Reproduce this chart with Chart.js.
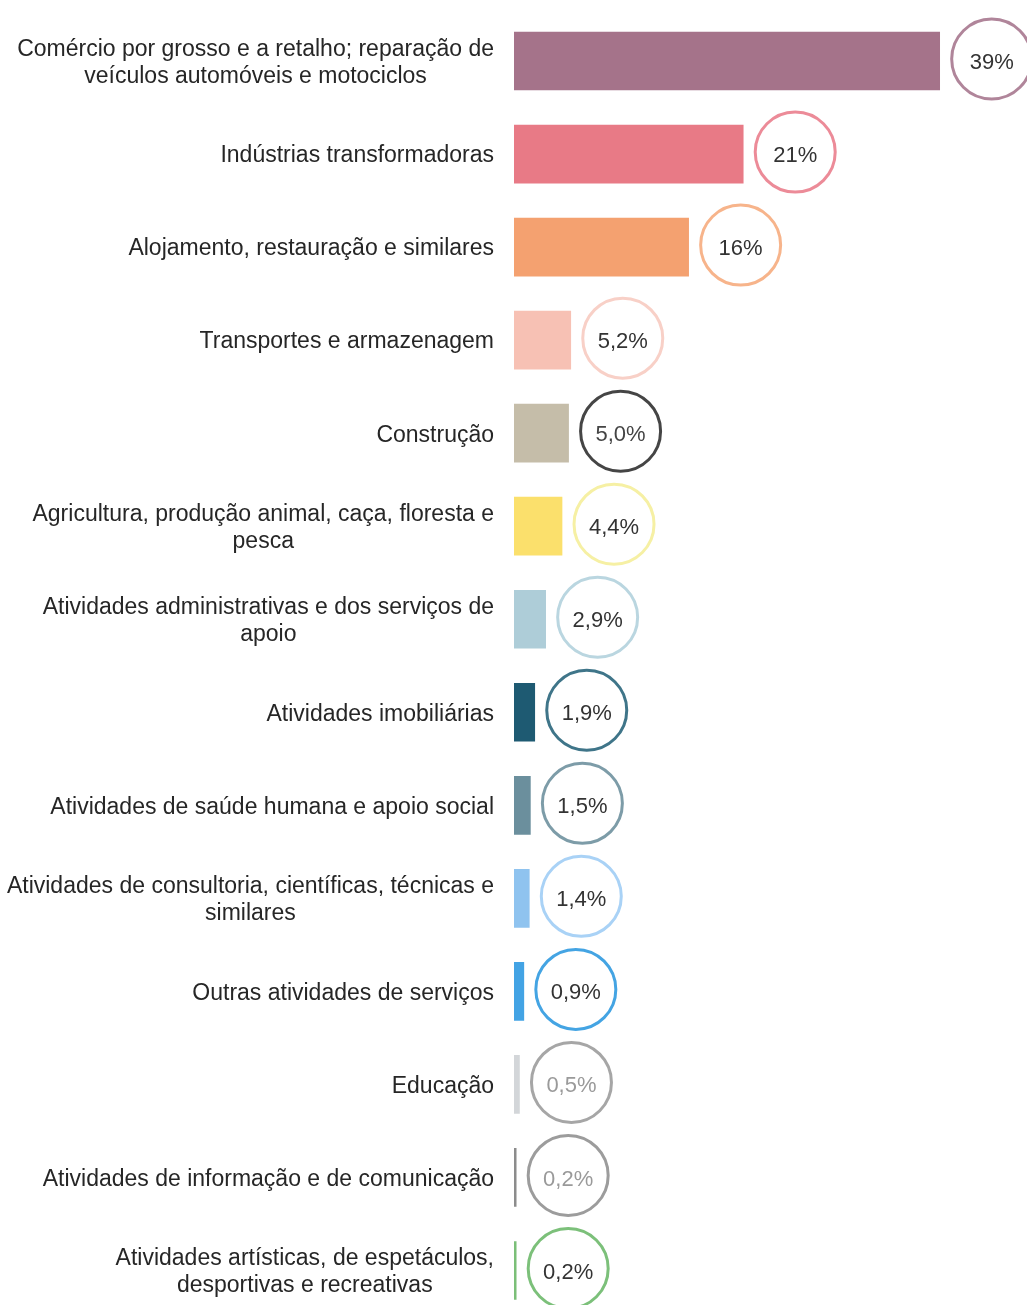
<!DOCTYPE html>
<html>
<head>
<meta charset="utf-8">
<script src="https://cdn.jsdelivr.net/npm/chart.js@4/dist/chart.umd.min.js"></script>
<style>
  html, body { margin: 0; padding: 0; background: #fff; overflow: hidden; }
  #wrap { position: relative; width: 1027px; height: 1317px; }
</style>
</head>
<body>
<div id="wrap"><canvas id="chart"></canvas></div>
<script>
// categories (multi-line labels as arrays)
const categories = [
  ['Comércio por grosso e a retalho; reparação de', 'veículos automóveis e motociclos'],
  ['Indústrias transformadoras'],
  ['Alojamento, restauração e similares'],
  ['Transportes e armazenagem'],
  ['Construção'],
  ['Agricultura, produção animal, caça, floresta e', 'pesca'],
  ['Atividades administrativas e dos serviços de', 'apoio'],
  ['Atividades imobiliárias'],
  ['Atividades de saúde humana e apoio social'],
  ['Atividades de consultoria, científicas, técnicas e', 'similares'],
  ['Outras atividades de serviços'],
  ['Educação'],
  ['Atividades de informação e de comunicação'],
  ['Atividades artísticas, de espetáculos,', 'desportivas e recreativas']
];

// share of companies, %
const shares = [39, 21, 16, 5.2, 5.0, 4.4, 2.9, 1.9, 1.5, 1.4, 0.9, 0.5, 0.2, 0.2];

const barColors = ['#a5738a', '#e87a86', '#f4a170', '#f7c1b4', '#c5bda9', '#fbe06c', '#aecdd8',
  '#1e5a72', '#6b8f9d', '#8fc3ef', '#43a3e4', '#d3d6d9', '#8c8c8c', '#7bbf78'];
const ringColors = ['#b0859a', '#ec8b98', '#f7b48b', '#f8d0c7', '#454545', '#f6f0a4', '#bad6e0',
  '#3f7589', '#7d9ca8', '#a9d2f6', '#44a4e3', '#a6a6a6', '#9c9c9c', '#7cc07a'];
const valueColors = ['#333', '#333', '#333', '#333', '#444', '#333', '#333',
  '#333', '#333', '#333', '#333', '#9a9a9a', '#9a9a9a', '#333'];

const FONT = '"Liberation Sans", Arial, sans-serif';
const LABEL_RIGHT = 494;

function fmt(v) {
  if (v >= 10) return Math.round(v) + '%';
  return v.toFixed(1).replace('.', ',') + '%';
}

const decorations = {
  id: 'decorations',
  afterDatasetsDraw(chart) {
    const ctx = chart.ctx;
    const xs = chart.scales.x;
    const ys = chart.scales.y;
    ctx.save();

    // category labels, block right-aligned, lines centered inside the block
    ctx.font = '23px ' + FONT;
    ctx.fillStyle = '#262626';
    ctx.textAlign = 'center';
    ctx.textBaseline = 'middle';
    categories.forEach((lines, i) => {
      const y = ys.getPixelForValue(i) + 2;
      const w = Math.max(...lines.map(l => ctx.measureText(l).width));
      const cx = LABEL_RIGHT - w / 2;
      const lh = 27;
      const top = y - (lines.length - 1) * lh / 2;
      lines.forEach((l, k) => ctx.fillText(l, cx, top + k * lh));
    });

    // value rings
    shares.forEach((v, i) => {
      const y = ys.getPixelForValue(i) - 2;
      const x = xs.getPixelForValue(v) + 52;
      ctx.beginPath();
      ctx.arc(x, y, 40, 0, Math.PI * 2);
      ctx.fillStyle = '#fff';
      ctx.fill();
      ctx.lineWidth = 3;
      ctx.strokeStyle = ringColors[i];
      ctx.stroke();
      ctx.fillStyle = valueColors[i];
      ctx.font = '22px ' + FONT;
      ctx.fillText(fmt(v), x, y + 4);
    });
    ctx.restore();
  }
};

new Chart(document.getElementById('chart'), {
  type: 'bar',
  data: {
    labels: categories.map(l => l.join(' ')),
    datasets: [{
      data: shares,
      backgroundColor: barColors,
      borderWidth: 0,
      barThickness: 58
    }]
  },
  options: {
    indexAxis: 'y',
    responsive: true,
    maintainAspectRatio: false,
    animation: false,
    layout: { padding: { left: 514, right: 0, top: 14.5, bottom: 0 } },
    plugins: { legend: { display: false }, tooltip: { enabled: false } },
    scales: {
      x: { display: false, min: 0, max: 47 },
      y: { display: false }
    }
  },
  plugins: [decorations]
});
</script>
</body>
</html>
